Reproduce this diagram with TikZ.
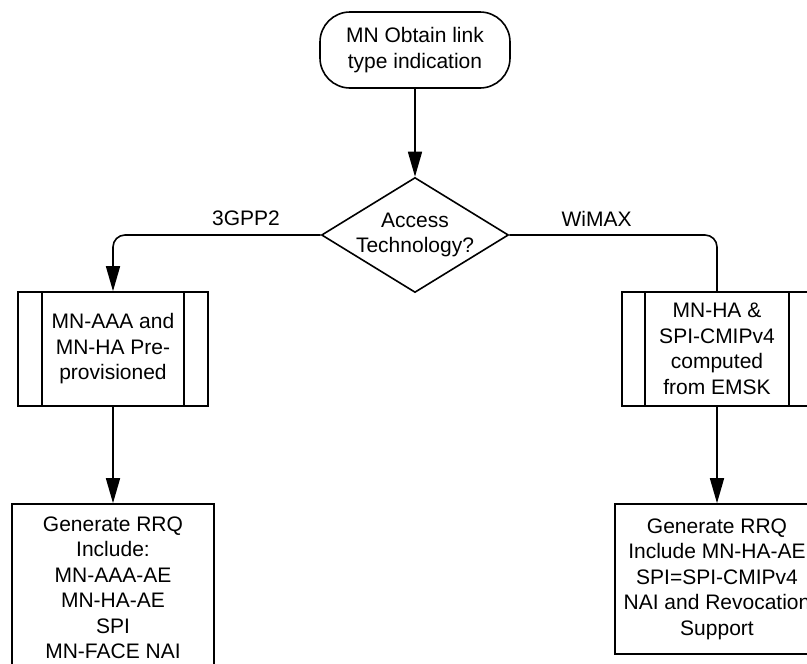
\documentclass[tikz,border=0pt]{standalone}
\usepackage{fontspec}
\setmainfont{Liberation Sans}
\usetikzlibrary{shapes.geometric,arrows.meta}
\tikzset{
  txt/.style={font=\fontsize{21}{25.5}\selectfont, align=center, inner sep=0pt},
  box/.style={txt, draw, line width=1.6pt},
  flow/.style={line width=1.6pt},
  arr/.style={flow, -{Triangle[length=25pt,width=14pt]}}
}
\begin{document}
\begin{tikzpicture}[x=1pt,y=-1pt]
        \clip (0,0) rectangle (807,664);
        \draw (415,50)  node[box,rounded corners=30pt,minimum width=190pt,minimum height=76pt] (start) {MN Obtain link\\type indication};
        \draw (415,235) node[diamond,draw,line width=1.6pt,minimum width=187pt,minimum height=115pt,inner sep=0pt] (dec) {};
        \node[txt] at (dec) {Access\\Technology?};
        \draw (113,349) node[box,minimum width=190pt,minimum height=114pt] (pre1) {MN-AAA and\\MN-HA Pre-\\provisioned};
        \draw (717,349) node[box,minimum width=190pt,minimum height=114pt] (pre2) {MN-HA \&\\SPI-CMIPv4\\computed\\from EMSK};
        \draw (113,588) node[box,minimum width=202pt,minimum height=168pt] (gen1) {Generate RRQ\\Include:\\MN-AAA-AE\\MN-HA-AE\\SPI\\MN-FACE NAI};
        \draw (717,579) node[box,minimum width=204pt,minimum height=150pt] (gen2) {Generate RRQ\\Include MN-HA-AE\\SPI=SPI-CMIPv4\\NAI and Revocation\\Support};
        \draw[flow] ([xshift=25pt]pre1.north west) -- ([xshift=25pt]pre1.south west)
                    ([xshift=-25pt]pre1.north east) -- ([xshift=-25pt]pre1.south east);
        \draw[flow] ([xshift=24pt]pre2.north west) -- ([xshift=24pt]pre2.south west)
                    ([xshift=-24pt]pre2.north east) -- ([xshift=-24pt]pre2.south east);
        \draw[arr] (start) -- (dec);
        \draw[arr,rounded corners=12pt] (dec.west) -| (pre1.north) node [txt, pos=0.18, above=8pt] {3GPP2};
        \draw[flow,rounded corners=12pt] (dec.east) -| (pre2.north) node [txt, pos=0.21, above=8pt] {WiMAX};
        \draw[arr] (pre1) -- (gen1);
        \draw[arr] (pre2) -- (gen2);
    \end{tikzpicture}
\end{document}
